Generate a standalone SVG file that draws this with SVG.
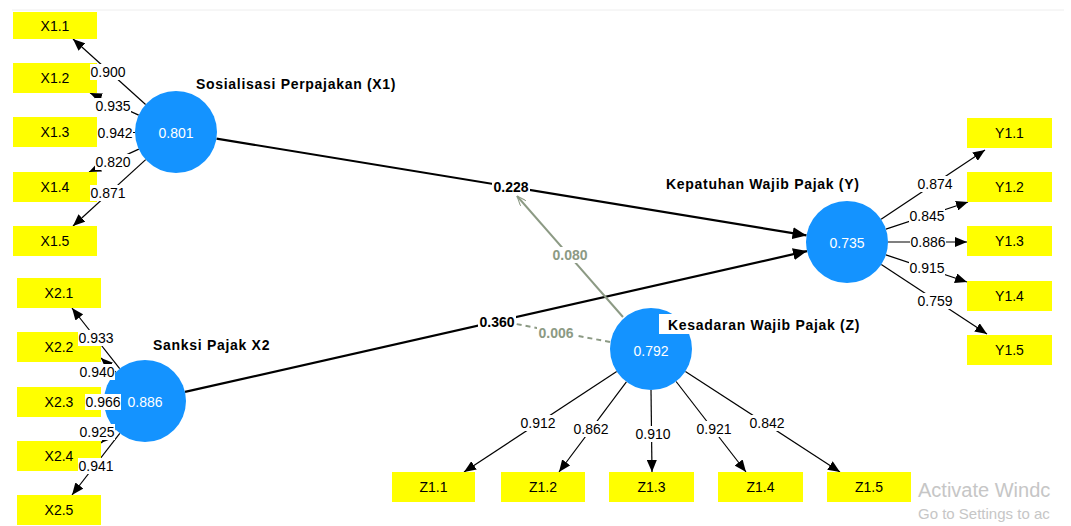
<svg xmlns="http://www.w3.org/2000/svg" width="1071" height="526" viewBox="0 0 1071 526">
<style>
text{font-family:"Liberation Sans",Arial,sans-serif}
.box{fill:#ffff00}
.bt{font-size:14px;fill:#000;text-anchor:middle;dominant-baseline:central}
.lv{fill:#1493ff}
.lvt{font-size:14px;fill:#fff;text-anchor:middle;dominant-baseline:central}
.ttl{font-size:14px;font-weight:bold;fill:#000;letter-spacing:0.7px;dominant-baseline:central}
.ld{stroke:#000;stroke-width:1.2;fill:none;marker-end:url(#ah)}
.pth{stroke:#000;stroke-width:2.2;fill:none;marker-end:url(#ahb)}
.mod{stroke:#8c9a84;stroke-width:2;fill:none}
.lb{fill:#fff}
.lt{font-size:14px;fill:#000;text-anchor:middle;dominant-baseline:central}
.pt{font-size:14px;font-weight:bold;fill:#000;text-anchor:middle;dominant-baseline:central}
.mt{font-size:14px;font-weight:bold;fill:#8c9a84;text-anchor:middle;dominant-baseline:central}
.wm{fill:#c6c6c6}
</style>
<defs>
<marker id="ah" viewBox="0 0 12 10" refX="12" refY="5" markerWidth="12" markerHeight="10" markerUnits="userSpaceOnUse" orient="auto"><path d="M0,0 L12,5 L0,10 z" fill="#000"/></marker>
<marker id="ahb" viewBox="0 0 14 12" refX="14" refY="6" markerWidth="14" markerHeight="12" markerUnits="userSpaceOnUse" orient="auto"><path d="M0,0 L14,6 L0,12 z" fill="#000"/></marker>
<marker id="ahg" viewBox="0 0 10 8" refX="10" refY="4" markerWidth="10" markerHeight="8" markerUnits="userSpaceOnUse" orient="auto"><path d="M0,0 L10,4 L0,8" fill="none" stroke="#8c9a84" stroke-width="1"/></marker>
</defs>
<rect width="1071" height="526" fill="#fff"/>
<line x1="12" y1="10" x2="1064" y2="10" stroke="#eeeeee" stroke-width="1"/>

<g id="connectors">
<line class="ld" x1="145.6" y1="104.5" x2="73" y2="39"/>
<line class="ld" x1="138.7" y1="115.1" x2="90" y2="93"/>
<line class="ld" x1="135" y1="132.5" x2="97" y2="133"/>
<line class="ld" x1="138.8" y1="149.1" x2="89" y2="172"/>
<line class="ld" x1="145.7" y1="159.6" x2="73" y2="226"/>
<line class="ld" x1="119.7" y1="368.7" x2="72" y2="308"/>
<line class="ld" x1="115.7" y1="372.3" x2="101" y2="358"/>
<line class="ld" x1="104" y1="401" x2="101" y2="402"/>
<line class="ld" x1="115.3" y1="429.3" x2="101" y2="443"/>
<line class="ld" x1="119.8" y1="433.4" x2="72" y2="495"/>
<line class="ld" x1="881.1" y1="219.3" x2="985" y2="150"/>
<line class="ld" x1="885.9" y1="229.1" x2="968" y2="202"/>
<line class="ld" x1="888" y1="242" x2="967" y2="242"/>
<line class="ld" x1="885.9" y1="254.9" x2="967" y2="282"/>
<line class="ld" x1="881.3" y1="264.5" x2="987" y2="334"/>
<line class="ld" x1="616.7" y1="371.5" x2="464" y2="472"/>
<line class="ld" x1="626.4" y1="381.8" x2="559" y2="472"/>
<line class="ld" x1="651" y1="390" x2="652" y2="472"/>
<line class="ld" x1="676.1" y1="381.5" x2="746" y2="472"/>
<line class="ld" x1="685.4" y1="371.4" x2="840" y2="472"/>
<line class="pth" x1="216.5" y1="138.6" x2="806.5" y2="235.4"/>
<line class="pth" x1="185" y1="391.9" x2="807" y2="251.1"/>
<line class="mod" x1="623" y1="317" x2="517" y2="196" marker-end="url(#ahg)"/>
<line class="mod" x1="610" y1="342" x2="516" y2="324" stroke-dasharray="5,4"/>
</g>

<g id="X1.1"><rect class="box" x="13" y="12" width="84" height="27"/><text class="bt" x="55" y="26">X1.1</text></g>
<g id="X1.2"><rect class="box" x="13" y="63" width="84" height="30"/><text class="bt" x="55" y="78">X1.2</text></g>
<g id="X1.3"><rect class="box" x="13" y="117" width="84" height="30"/><text class="bt" x="55" y="132">X1.3</text></g>
<g id="X1.4"><rect class="box" x="13" y="172" width="84" height="30"/><text class="bt" x="55" y="187">X1.4</text></g>
<g id="X1.5"><rect class="box" x="13" y="226" width="84" height="30"/><text class="bt" x="55" y="241">X1.5</text></g>

<g id="X2.1"><rect class="box" x="17" y="278" width="84" height="30"/><text class="bt" x="59" y="293">X2.1</text></g>
<g id="X2.2"><rect class="box" x="17" y="332" width="84" height="30"/><text class="bt" x="59" y="347">X2.2</text></g>
<g id="X2.3"><rect class="box" x="17" y="387" width="84" height="30"/><text class="bt" x="59" y="402">X2.3</text></g>
<g id="X2.4"><rect class="box" x="17" y="441" width="84" height="30"/><text class="bt" x="59" y="456">X2.4</text></g>
<g id="X2.5"><rect class="box" x="17" y="495" width="84" height="30"/><text class="bt" x="59" y="510">X2.5</text></g>

<g id="Y1.1"><rect class="box" x="967" y="118" width="85" height="30"/><text class="bt" x="1009.5" y="133">Y1.1</text></g>
<g id="Y1.2"><rect class="box" x="967" y="172" width="85" height="30"/><text class="bt" x="1009.5" y="187">Y1.2</text></g>
<g id="Y1.3"><rect class="box" x="967" y="226" width="85" height="30"/><text class="bt" x="1009.5" y="241">Y1.3</text></g>
<g id="Y1.4"><rect class="box" x="967" y="281" width="85" height="30"/><text class="bt" x="1009.5" y="296">Y1.4</text></g>
<g id="Y1.5"><rect class="box" x="967" y="335" width="85" height="30"/><text class="bt" x="1009.5" y="350">Y1.5</text></g>

<g id="Z1.1"><rect class="box" x="392" y="472" width="83" height="30"/><text class="bt" x="433.5" y="487">Z1.1</text></g>
<g id="Z1.2"><rect class="box" x="501" y="472" width="84" height="30"/><text class="bt" x="543" y="487">Z1.2</text></g>
<g id="Z1.3"><rect class="box" x="609" y="472" width="85" height="30"/><text class="bt" x="651.5" y="487">Z1.3</text></g>
<g id="Z1.4"><rect class="box" x="718" y="472" width="85" height="30"/><text class="bt" x="760.5" y="487">Z1.4</text></g>
<g id="Z1.5"><rect class="box" x="827" y="472" width="84" height="30"/><text class="bt" x="869" y="487">Z1.5</text></g>

<g id="X1"><circle class="lv" cx="176" cy="132" r="41"/><text class="lvt" x="176" y="133">0.801</text><text class="ttl" x="196" y="84">Sosialisasi Perpajakan (X1)</text></g>
<g id="X2"><circle class="lv" cx="145" cy="401" r="41"/><text class="lvt" x="145" y="402">0.886</text><text class="ttl" x="153" y="345">Sanksi Pajak X2</text></g>
<g id="Y"><circle class="lv" cx="847" cy="242" r="41"/><text class="lvt" x="847" y="243">0.735</text><text class="ttl" x="666" y="184">Kepatuhan Wajib Pajak (Y)</text></g>
<g id="Z"><circle class="lv" cx="651" cy="349" r="41"/><rect fill="#fff" x="659" y="314" width="210" height="20"/><text class="lvt" x="651" y="351">0.792</text><text class="ttl" x="668" y="325">Kesadaran Wajib Pajak (Z)</text></g>

<g id="connector-labels">
<rect class="lb" x="90" y="64" width="36" height="16"/><text class="lt" x="108" y="72">0.900</text>
<rect class="lb" x="95" y="98" width="36" height="16"/><text class="lt" x="113" y="106">0.935</text>
<rect class="lb" x="97" y="125" width="36" height="16"/><text class="lt" x="115" y="133">0.942</text>
<rect class="lb" x="95" y="154" width="36" height="16"/><text class="lt" x="113" y="162">0.820</text>
<rect class="lb" x="90" y="185" width="36" height="16"/><text class="lt" x="108" y="193">0.871</text>
<rect class="lb" x="78" y="330" width="36" height="16"/><text class="lt" x="96" y="338">0.933</text>
<rect class="lb" x="79" y="364" width="36" height="16"/><text class="lt" x="97" y="372">0.940</text>
<rect class="lb" x="85" y="394" width="36" height="16"/><text class="lt" x="103" y="402">0.966</text>
<rect class="lb" x="79" y="424" width="36" height="16"/><text class="lt" x="97" y="432">0.925</text>
<rect class="lb" x="78" y="458" width="36" height="16"/><text class="lt" x="96" y="466">0.941</text>
<rect class="lb" x="917" y="176" width="36" height="16"/><text class="lt" x="935" y="184">0.874</text>
<rect class="lb" x="909" y="208" width="36" height="16"/><text class="lt" x="927" y="216">0.845</text>
<rect class="lb" x="910" y="234" width="36" height="16"/><text class="lt" x="928" y="242">0.886</text>
<rect class="lb" x="909" y="260" width="36" height="16"/><text class="lt" x="927" y="268">0.915</text>
<rect class="lb" x="917" y="293" width="36" height="16"/><text class="lt" x="935" y="301">0.759</text>
<rect class="lb" x="520" y="415" width="36" height="16"/><text class="lt" x="538" y="423">0.912</text>
<rect class="lb" x="573" y="421" width="36" height="16"/><text class="lt" x="591" y="429">0.862</text>
<rect class="lb" x="635" y="426" width="36" height="16"/><text class="lt" x="653" y="434">0.910</text>
<rect class="lb" x="696" y="421" width="36" height="16"/><text class="lt" x="714" y="429">0.921</text>
<rect class="lb" x="749" y="415" width="36" height="16"/><text class="lt" x="767" y="423">0.842</text>
<rect class="lb" x="492" y="179" width="38" height="16"/><text class="pt" x="511" y="187">0.228</text>
<rect class="lb" x="478" y="314" width="38" height="16"/><text class="pt" x="497" y="322">0.360</text>
<rect class="lb" x="551" y="247" width="38" height="16"/><text class="mt" x="570" y="255">0.080</text>
<rect class="lb" x="537" y="325" width="38" height="16"/><text class="mt" x="556" y="333">0.006</text>
</g>

<text class="wm" x="918" y="497" font-size="20">Activate Windc</text>
<text class="wm" x="918" y="519" font-size="15">Go to Settings to ac</text>
</svg>
